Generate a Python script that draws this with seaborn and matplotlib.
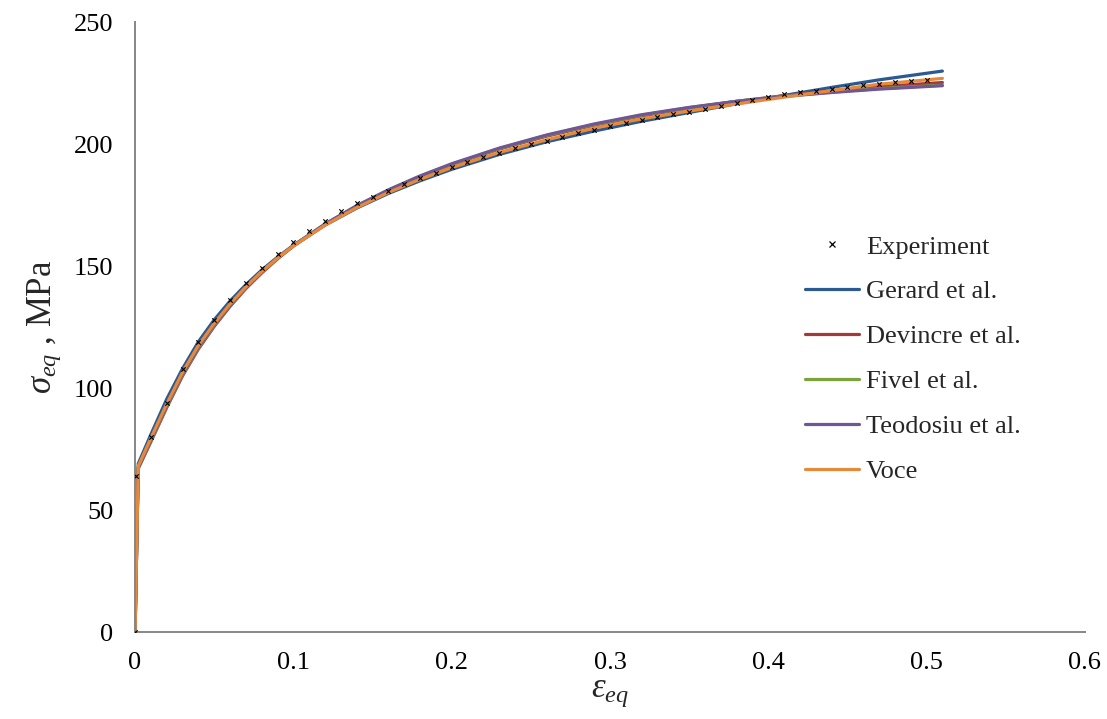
import numpy as np
import pandas as pd
import matplotlib
matplotlib.use("Agg")
import matplotlib.pyplot as plt
from matplotlib.lines import Line2D
import seaborn as sns

# ---- measured flow curve ----
eps_exp = [0.0, 0.0003, 0.01, 0.02, 0.03, 0.04, 0.05, 0.06, 0.07, 0.08, 0.09,
           0.10, 0.11, 0.12, 0.13, 0.14, 0.15, 0.16, 0.17, 0.18, 0.19,
           0.20, 0.21, 0.22, 0.23, 0.24, 0.25, 0.26, 0.27, 0.28, 0.29,
           0.30, 0.31, 0.32, 0.33, 0.34, 0.35, 0.36, 0.37, 0.38, 0.39,
           0.40, 0.41, 0.42, 0.43, 0.44, 0.45, 0.46, 0.47, 0.48, 0.49, 0.50]
sig_exp = [0.0, 64.0, 80.0, 94.0, 108.0, 119.0, 128.0, 136.0, 143.0, 149.3, 155.0,
           160.0, 164.5, 168.6, 172.5, 175.8, 178.5, 181.0, 183.5, 186.0, 188.3,
           190.5, 192.6, 194.6, 196.5, 198.3, 200.0, 201.5, 203.0, 204.6, 206.0,
           207.3, 208.7, 209.8, 211.0, 212.3, 213.3, 214.5, 215.7, 217.0, 218.2,
           219.4, 220.4, 221.3, 222.0, 222.8, 223.5, 224.2, 224.9, 225.4, 226.0, 226.5]

# ---- hardening model predictions ----
eps_model = [0.0, 0.002, 0.01, 0.02, 0.03, 0.04, 0.05, 0.06, 0.07, 0.08, 0.09,
             0.10, 0.12, 0.14, 0.16, 0.18, 0.20, 0.23, 0.26, 0.29, 0.32,
             0.35, 0.38, 0.41, 0.44, 0.47, 0.51]
sig_gerard = [0.0, 69.0, 81.0, 95.5, 108.0, 119.0, 128.0, 135.7, 142.4, 148.4, 153.7,
              158.5, 166.8, 173.8, 179.8, 185.0, 189.7, 195.8, 201.0, 205.4, 209.4,
              213.0, 216.6, 220.0, 223.3, 226.4, 230.0]
sig_devincre = [0.0, 67.0, 78.0, 92.0, 105.0, 116.0, 125.3, 133.5, 140.8, 147.2, 153.0,
                158.2, 167.0, 174.5, 181.0, 186.7, 191.6, 198.0, 203.3, 207.8, 211.6,
                214.8, 217.6, 219.9, 221.9, 223.6, 225.3]
sig_fivel = [0.0, 67.5, 78.5, 92.5, 105.5, 116.5, 125.8, 134.0, 141.2, 147.6, 153.3,
             158.4, 167.2, 174.7, 181.1, 186.8, 191.8, 198.2, 203.6, 208.1, 211.9,
             215.0, 217.6, 219.7, 221.4, 222.8, 224.2]
sig_teodosiu = [0.0, 67.5, 78.8, 92.8, 105.8, 116.8, 126.0, 134.1, 141.3, 147.7, 153.4,
                158.5, 167.3, 174.8, 181.3, 187.0, 192.0, 198.4, 203.8, 208.3, 212.1,
                215.1, 217.6, 219.6, 221.2, 222.6, 224.0]
sig_voce = [0.0, 68.0, 79.5, 93.5, 106.5, 117.5, 126.5, 134.5, 141.5, 147.8, 153.3,
            158.3, 166.8, 174.0, 180.2, 185.6, 190.4, 196.6, 201.8, 206.6, 210.4,
            213.6, 216.5, 219.3, 222.0, 224.6, 227.0]

model_names = ["Gerard et al.", "Devincre et al.", "Fivel et al.",
               "Teodosiu et al.", "Voce"]
model_values = [sig_gerard, sig_devincre, sig_fivel, sig_teodosiu, sig_voce]
model_colors = ["#2B5A93", "#A23A39", "#79A43C", "#6E5794", "#E6893B"]

x_ticks = [0, 0.1, 0.2, 0.3, 0.4, 0.5, 0.6]
x_tick_labels = ["0", "0.1", "0.2", "0.3", "0.4", "0.5", "0.6"]
y_ticks = [0, 50, 100, 150, 200, 250]

models = pd.DataFrame({
    "eps": np.tile(eps_model, len(model_names)),
    "sigma": np.concatenate(model_values),
    "model": np.repeat(model_names, len(eps_model)),
})
experiment = pd.DataFrame({"eps": eps_exp, "sigma": sig_exp})

sns.set_theme(style="white")
plt.rcParams["font.family"] = ["Liberation Serif", "DejaVu Serif"]
plt.rcParams["mathtext.fontset"] = "custom"
plt.rcParams["mathtext.rm"] = "Liberation Serif"
plt.rcParams["mathtext.it"] = "Liberation Serif:italic"

FS = 19
LABEL_FS = 25
AXIS_GREY = "#868686"

fig = plt.figure(figsize=(11.07, 7.19), dpi=100)
ax = fig.add_axes([0.122, 0.121, 0.858, 0.848])

sns.lineplot(data=models, x="eps", y="sigma", hue="model",
             hue_order=model_names, palette=model_colors,
             estimator=None, sort=False, linewidth=2.3, legend=False, ax=ax)
sns.scatterplot(data=experiment, x="eps", y="sigma", marker="x", color="black",
                s=10, linewidth=0.8, legend=False, ax=ax, zorder=5)

ax.set_xlim(0, 0.6)
ax.set_ylim(0, 250)
ax.set_xticks(x_ticks)
ax.set_xticklabels(x_tick_labels)
ax.set_yticks(y_ticks)

for side in ("top", "right"):
    ax.spines[side].set_visible(False)
for side in ("left", "bottom"):
    ax.spines[side].set_color(AXIS_GREY)
    ax.spines[side].set_linewidth(1.4)

ax.tick_params(axis="both", which="major", direction="out", length=4.5,
               width=1.2, color=AXIS_GREY, labelsize=FS, labelcolor="black")
ax.tick_params(axis="y", pad=11)
ax.tick_params(axis="x", pad=10)
ax.grid(False)

ax.set_xlabel(r"$\varepsilon_{eq}$", fontsize=LABEL_FS, labelpad=1)
ax.set_ylabel(r"$\sigma_{eq}$ , MPa", fontsize=LABEL_FS, labelpad=8)

handles = [Line2D([], [], marker="x", color="black", linestyle="none",
                  markersize=4, markeredgewidth=0.9)]
handles += [Line2D([], [], color=c, linewidth=2.3) for c in model_colors]
labels = ["Experiment"] + model_names
fig.legend(handles, labels, loc="upper left", bbox_to_anchor=(0.727, 0.673),
           frameon=False, fontsize=FS, handlelength=2.05, handletextpad=0.27,
           labelspacing=0.81, borderpad=0, borderaxespad=0, numpoints=1)

fig.savefig("out.png", dpi=100, facecolor="white")
